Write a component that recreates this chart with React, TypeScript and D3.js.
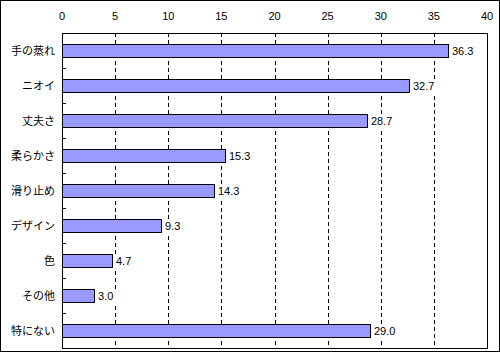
import React from 'react';
import * as d3 from 'd3';

const categories = ['手の蒸れ', 'ニオイ', '丈夫さ', '柔らかさ', '滑り止め', 'デザイン', '色', 'その他', '特にない'];
const values = [36.3, 32.7, 28.7, 15.3, 14.3, 9.3, 4.7, 3.0, 29.0];
const xTicks = [0, 5, 10, 15, 20, 25, 30, 35, 40];

const App = () => {
  const boxWidth = 500;
  const boxHeight = 353;
  const plot = { left: 62, right: 487, top: 33, bottom: 348 };
  const font = '"Liberation Sans", "Noto Sans CJK JP", sans-serif';

  const x = d3.scaleLinear().domain([0, 40]).range([plot.left, plot.right]);
  const y = d3.scaleBand().domain(categories).range([plot.top, plot.bottom]);
  const barH = 13;

  // boundaries between categories get a small tick on the left axis
  const bounds = categories.slice(1).map(c => Math.round(y(c)));

  return (
    <svg width={boxWidth} height={boxHeight}
      style={{ position: 'absolute', left: 0, top: 0, background: 'white', fontFamily: font }}>
      <rect x={0.5} y={0.5} width={boxWidth - 1} height={boxHeight - 2} fill="white" stroke="black" />
      {/* dashed grid */}
      {xTicks.slice(1, -1).map(t => (
        <line key={t} x1={Math.round(x(t)) + 0.5} x2={Math.round(x(t)) + 0.5}
          y1={plot.top} y2={plot.bottom} stroke="black" strokeDasharray="4,3" />
      ))}
      <rect x={plot.left + 0.5} y={plot.top + 0.5} width={plot.right - plot.left} height={plot.bottom - plot.top}
        fill="none" stroke="black" />
      {bounds.map((b, i) => (
        <line key={i} x1={plot.left} x2={plot.left + 4} y1={b + 0.5} y2={b + 0.5} stroke="black" />
      ))}
      {/* top axis labels */}
      {xTicks.map(t => (
        <text key={t} x={x(t)} y={20} textAnchor="middle" fontSize={11}>{t}</text>
      ))}
      {categories.map((c, i) => {
        const cy = Math.round(y(c) + y.bandwidth() / 2);
        const y0 = cy - Math.round(barH / 2);
        const label = values[i].toFixed(1);
        const lx = Math.round(x(values[i])) + 3;
        return (
          <g key={c}>
            <text x={55} y={cy + 4} textAnchor="end" fontSize={11}>{c}</text>
            <rect x={plot.left + 0.5} y={y0 + 0.5} width={Math.round(x(values[i]) - plot.left)} height={barH}
              fill="#9999FF" stroke="black" />
            <rect x={lx} y={cy - 7} width={label.length * 6 + 2} height={14} fill="white" />
            <text x={lx + 1} y={cy + 4} fontSize={11}>{label}</text>
          </g>
        );
      })}
    </svg>
  );
};

export default App;
